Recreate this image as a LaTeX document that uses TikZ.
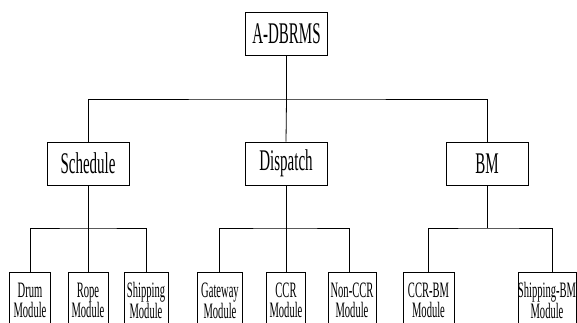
\documentclass[tikz,border=0pt]{standalone}
\usepackage{fontspec}
\newfontfamily\cf[FakeStretch=0.5]{Liberation Serif}
\newfontfamily\cs[FakeStretch=0.48]{Liberation Serif}
\tikzset{
  bigbox/.style={draw, line width=0.8pt, minimum width=82pt, minimum height=43pt, inner sep=0pt,
    font=\cf\fontsize{30}{32}\selectfont},
  modbox/.style={draw, line width=0.8pt, anchor=north, minimum height=56pt, inner sep=0pt,
    align=center, font=\cs\fontsize{22}{20}\selectfont},
  link/.style={line width=0.8pt}
}
\begin{document}
\begin{tikzpicture}[x=1pt,y=-1pt]
\useasboundingbox (0,0) rectangle (577,323);
\clip (0,0) rectangle (577,323);
\fill[white] (0,0) rectangle (577,323);
% level 1
\node[bigbox] (top) at (286.5,33.5) {A-DBRMS};
% level 2
\node[bigbox] (sched) at (88,163.5) {Schedule};
\node[bigbox] (disp) at (286,163.5) {Dispatch};
\node[bigbox] (bm) at (487,163.5) {BM};
% level 3
\node[modbox, minimum width=41pt] (drum) at (30,272) {Drum\\Module};
\node[modbox, minimum width=40pt] (rope) at (88,272) {Rope\\Module};
\node[modbox, minimum width=44pt] (ship) at (146,272) {Shipping\\Module};
\node[modbox, minimum width=45pt] (gate) at (220,272) {Gateway\\Module};
\node[modbox, minimum width=39pt] (ccr) at (286,272) {CCR\\Module};
\node[modbox, minimum width=48pt] (nccr) at (352,272) {Non-CCR\\Module};
\node[modbox, minimum width=51pt] (ccrbm) at (428.5,272) {CCR-BM\\Module};
\node[modbox, minimum width=58pt] (shipbm) at (547,272) {Shipping-BM\\Module};
% junctions
\coordinate (j1) at (286.5,99);
\coordinate (j2) at (88,228);
\coordinate (j3) at (286,228);
\coordinate (j4) at (487,228);
% connectors
\draw[link] (top.south) -- (j1);
\draw[link] (sched.north) |- (j1) -| (bm.north);
\draw[link] (j1) -- (disp.north);
\draw[link] (sched.south) -- (j2);
\draw[link] ([xshift=0.5pt]drum.north) |- (j2) -| (ship.north);
\draw[link] (j2) -- (rope.north);
\draw[link] (disp.south) -- (j3);
\draw[link] ([xshift=-1pt]gate.north) |- (j3) -| ([xshift=-3pt]nccr.north);
\draw[link] (j3) -- (ccr.north);
\draw[link] (bm.south) -- (j4);
\draw[link] (ccrbm.north) |- (j4) -| ([xshift=5pt]shipbm.north);
\end{tikzpicture}
\end{document}
